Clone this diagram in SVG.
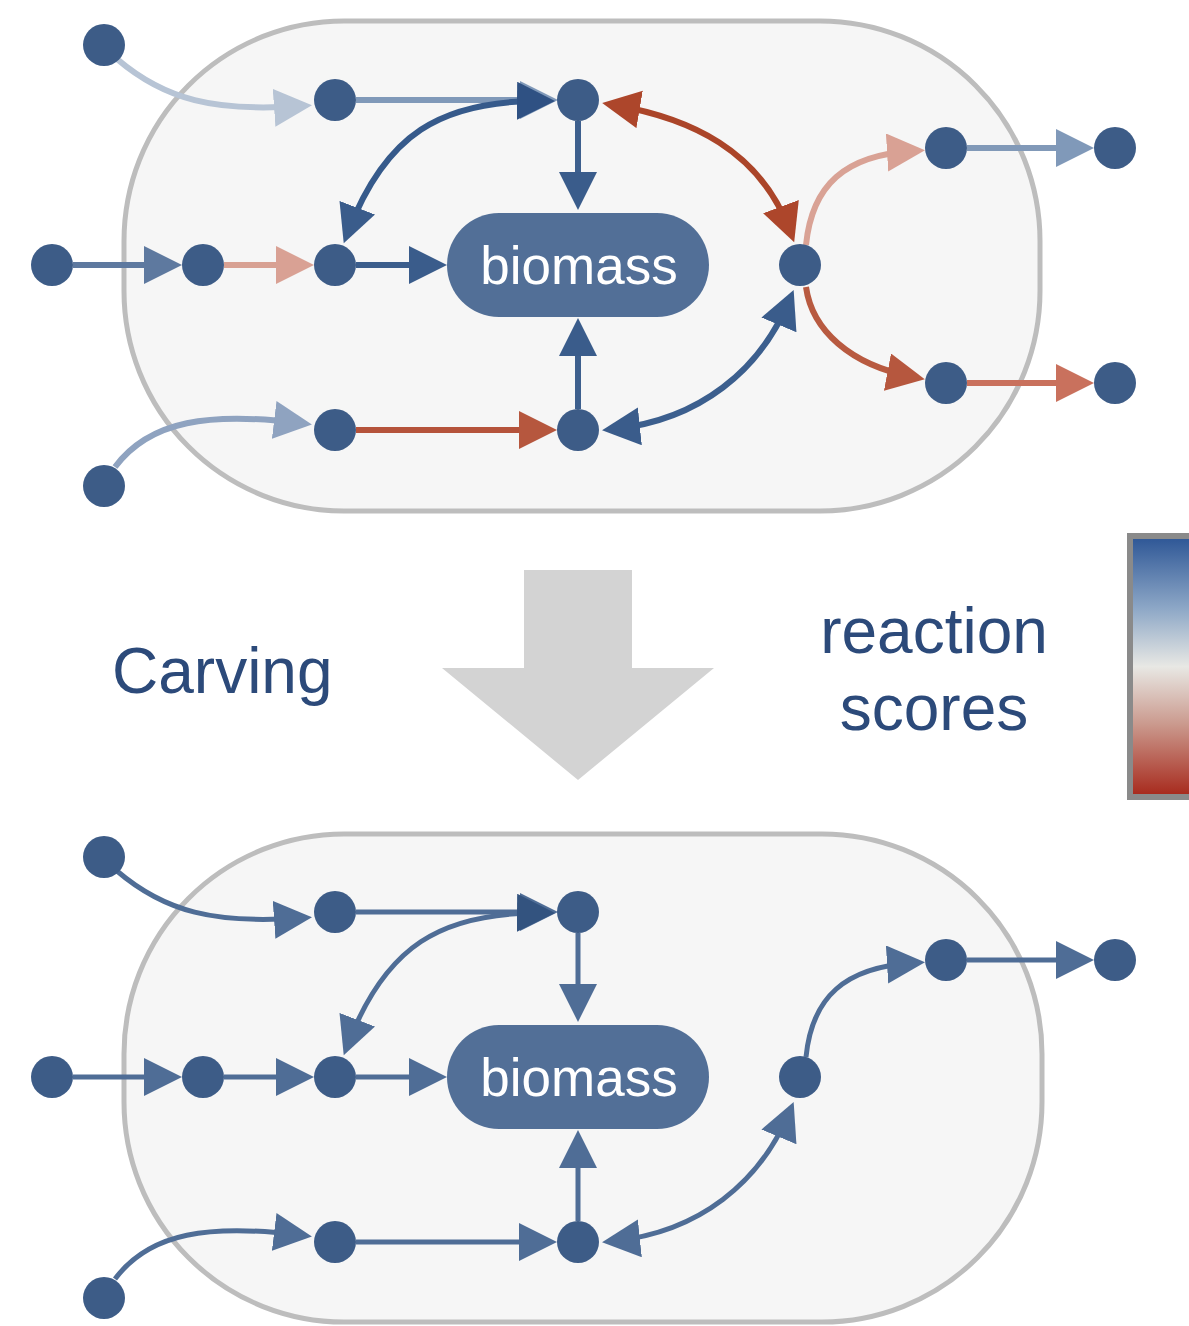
<svg xmlns="http://www.w3.org/2000/svg" width="1189" height="1326" viewBox="0 0 1189 1326">
<style>
.cell{fill:#f6f6f6;stroke:#bdbdbd;stroke-width:5}
.node{fill:#3d5c87}
.e{fill:none;stroke-width:6}
.eb{fill:none;stroke-width:5;stroke:#4f6d96}
.bio{fill:#526f97}
.biot{font-family:"Liberation Sans",Arial,sans-serif;font-size:53px;fill:#ffffff;text-anchor:middle}
.lbl{font-family:"Liberation Sans",Arial,sans-serif;font-size:64px;fill:#2c4a7a}
</style>
<defs>
<linearGradient id="scale" x1="0" y1="0" x2="0" y2="1">
<stop offset="0" stop-color="#2c5595"/>
<stop offset="0.28" stop-color="#8ea8c7"/>
<stop offset="0.5" stop-color="#e8e8e4"/>
<stop offset="0.72" stop-color="#cb9a8e"/>
<stop offset="1" stop-color="#a6271a"/>
</linearGradient>
<marker id="m-lb" markerUnits="userSpaceOnUse" markerWidth="40" markerHeight="40" refX="26" refY="19" orient="auto-start-reverse"><path d="M0,0 L38,19 L0,38 z" fill="#b7c4d5"/></marker>
<marker id="m-mb" markerUnits="userSpaceOnUse" markerWidth="40" markerHeight="40" refX="26" refY="19" orient="auto-start-reverse"><path d="M0,0 L38,19 L0,38 z" fill="#8099b9"/></marker>
<marker id="m-db" markerUnits="userSpaceOnUse" markerWidth="40" markerHeight="40" refX="26" refY="19" orient="auto-start-reverse"><path d="M0,0 L38,19 L0,38 z" fill="#3a5c8b"/></marker>
<marker id="m-dd" markerUnits="userSpaceOnUse" markerWidth="40" markerHeight="40" refX="26" refY="19" orient="auto-start-reverse"><path d="M0,0 L38,19 L0,38 z" fill="#2f5183"/></marker>
<marker id="m-de" markerUnits="userSpaceOnUse" markerWidth="40" markerHeight="40" refX="26" refY="19" orient="auto-start-reverse"><path d="M0,0 L38,19 L0,38 z" fill="#5e799f"/></marker>
<marker id="m-nl" markerUnits="userSpaceOnUse" markerWidth="40" markerHeight="40" refX="26" refY="19" orient="auto-start-reverse"><path d="M0,0 L38,19 L0,38 z" fill="#8fa3c0"/></marker>
<marker id="m-pk" markerUnits="userSpaceOnUse" markerWidth="40" markerHeight="40" refX="26" refY="19" orient="auto-start-reverse"><path d="M0,0 L38,19 L0,38 z" fill="#d9a194"/></marker>
<marker id="m-rd" markerUnits="userSpaceOnUse" markerWidth="40" markerHeight="40" refX="26" refY="19" orient="auto-start-reverse"><path d="M0,0 L38,19 L0,38 z" fill="#ad462b"/></marker>
<marker id="m-r2" markerUnits="userSpaceOnUse" markerWidth="40" markerHeight="40" refX="26" refY="19" orient="auto-start-reverse"><path d="M0,0 L38,19 L0,38 z" fill="#b6573e"/></marker>
<marker id="m-r3" markerUnits="userSpaceOnUse" markerWidth="40" markerHeight="40" refX="26" refY="19" orient="auto-start-reverse"><path d="M0,0 L38,19 L0,38 z" fill="#c9715d"/></marker>
<marker id="m-bt" markerUnits="userSpaceOnUse" markerWidth="40" markerHeight="40" refX="26" refY="19" orient="auto-start-reverse"><path d="M0,0 L38,19 L0,38 z" fill="#4f6d96"/></marker>
<marker id="m-bd" markerUnits="userSpaceOnUse" markerWidth="40" markerHeight="40" refX="26" refY="19" orient="auto-start-reverse"><path d="M0,0 L38,19 L0,38 z" fill="#33537f"/></marker>
</defs>

<rect width="1189" height="1326" fill="#ffffff"/>

<!-- cells -->
<g id="cell-top"><rect class="cell" x="124" y="21" width="916" height="490" rx="220" ry="220"/></g>
<g id="cell-bottom"><rect class="cell" x="124" y="834" width="918" height="488" rx="220" ry="220"/></g>

<!-- carving arrow, labels, legend -->
<g id="carving-arrow"><path d="M524,570 L632,570 L632,668 L714,668 L578,780 L442,668 L524,668 z" fill="#d3d3d3"/></g>
<g id="label-carving"><text class="lbl" x="112" y="693">Carving</text></g>
<g id="label-scores"><text class="lbl" x="934" y="653" text-anchor="middle">reaction</text><text class="lbl" x="934" y="730" text-anchor="middle">scores</text></g>
<g id="legend"><rect x="1130" y="536" width="70" height="261" fill="url(#scale)" stroke="#8a8a8a" stroke-width="6"/></g>

<!-- connectors top -->
<g id="connectors-top">
<path class="e" stroke="#b7c4d5" d="M117,59 C165,100 215,112 300,106" marker-end="url(#m-lb)"/>
<path class="e" stroke="#8099b9" d="M356,100 L546,100" marker-end="url(#m-mb)"/>
<path class="e" stroke="#365a8b" d="M543,101 C440,100 385,135 348,232" marker-start="url(#m-dd)" marker-end="url(#m-db)"/>
<path class="e" stroke="#3d5f8d" d="M578,121 L578,198" marker-end="url(#m-db)"/>
<path class="e" stroke="#ab4529" d="M614,105 C690,118 760,150 790,231" marker-start="url(#m-rd)" marker-end="url(#m-rd)"/>
<path class="e" stroke="#5e799f" d="M73,265 L170,265" marker-end="url(#m-de)"/>
<path class="e" stroke="#d8a193" d="M224,265 L302,265" marker-end="url(#m-pk)"/>
<path class="e" stroke="#3b5d8b" d="M356,265 L435,265" marker-end="url(#m-db)"/>
<path class="e" stroke="#b5533b" d="M356,430 L545,430" marker-end="url(#m-r2)"/>
<path class="e" stroke="#3d5f8d" d="M578,409 L578,330" marker-end="url(#m-db)"/>
<path class="e" stroke="#3c5f8e" d="M614,429 C700,420 760,370 789,301" marker-start="url(#m-db)" marker-end="url(#m-db)"/>
<path class="e" stroke="#8fa3c0" d="M115,467 C150,420 210,412 300,423" marker-end="url(#m-nl)"/>
<path class="e" stroke="#d9a295" d="M806,245 C812,185 845,155 913,151" marker-end="url(#m-pk)"/>
<path class="e" stroke="#8199b8" d="M967,148 L1082,148" marker-end="url(#m-mb)"/>
<path class="e" stroke="#b85a40" d="M806,287 C812,330 850,365 913,377" marker-end="url(#m-r2)"/>
<path class="e" stroke="#c9715d" d="M967,383 L1082,383" marker-end="url(#m-r3)"/>
</g>

<!-- connectors bottom -->
<g id="connectors-bottom" transform="translate(0,812)">
<path class="eb" d="M117,59 C165,100 215,112 300,106" marker-end="url(#m-bt)"/>
<path class="eb" d="M356,100 L546,100" marker-end="url(#m-bt)"/>
<path class="eb" d="M543,101 C440,100 385,135 348,232" marker-start="url(#m-bd)" marker-end="url(#m-bt)"/>
<path class="eb" d="M578,121 L578,198" marker-end="url(#m-bt)"/>
<path class="eb" d="M73,265 L170,265" marker-end="url(#m-bt)"/>
<path class="eb" d="M224,265 L302,265" marker-end="url(#m-bt)"/>
<path class="eb" d="M356,265 L435,265" marker-end="url(#m-bt)"/>
<path class="eb" d="M356,430 L545,430" marker-end="url(#m-bt)"/>
<path class="eb" d="M578,409 L578,330" marker-end="url(#m-bt)"/>
<path class="eb" d="M614,429 C700,420 760,370 789,301" marker-start="url(#m-bt)" marker-end="url(#m-bt)"/>
<path class="eb" d="M115,467 C150,420 210,412 300,423" marker-end="url(#m-bt)"/>
<path class="eb" d="M806,245 C812,185 845,155 913,151" marker-end="url(#m-bt)"/>
<path class="eb" d="M967,148 L1082,148" marker-end="url(#m-bt)"/>
</g>

<!-- nodes top -->
<g id="top-A"><circle class="node" cx="104" cy="45" r="21"/></g>
<g id="top-B"><circle class="node" cx="335" cy="100" r="21"/></g>
<g id="top-C"><circle class="node" cx="578" cy="100" r="21"/></g>
<g id="top-D"><circle class="node" cx="52" cy="265" r="21"/></g>
<g id="top-E"><circle class="node" cx="203" cy="265" r="21"/></g>
<g id="top-F"><circle class="node" cx="335" cy="265" r="21"/></g>
<g id="top-G"><circle class="node" cx="800" cy="265" r="21"/></g>
<g id="top-H"><circle class="node" cx="946" cy="148" r="21"/></g>
<g id="top-I"><circle class="node" cx="1115" cy="148" r="21"/></g>
<g id="top-J"><circle class="node" cx="946" cy="383" r="21"/></g>
<g id="top-K"><circle class="node" cx="1115" cy="383" r="21"/></g>
<g id="top-L"><circle class="node" cx="335" cy="430" r="21"/></g>
<g id="top-M"><circle class="node" cx="578" cy="430" r="21"/></g>
<g id="top-N"><circle class="node" cx="104" cy="486" r="21"/></g>
<g id="top-biomass"><rect class="bio" x="447" y="213" width="262" height="104" rx="52"/><text class="biot" x="579" y="284">biomass</text></g>

<!-- nodes bottom -->
<g id="bot-A"><circle class="node" cx="104" cy="857" r="21"/></g>
<g id="bot-B"><circle class="node" cx="335" cy="912" r="21"/></g>
<g id="bot-C"><circle class="node" cx="578" cy="912" r="21"/></g>
<g id="bot-D"><circle class="node" cx="52" cy="1077" r="21"/></g>
<g id="bot-E"><circle class="node" cx="203" cy="1077" r="21"/></g>
<g id="bot-F"><circle class="node" cx="335" cy="1077" r="21"/></g>
<g id="bot-G"><circle class="node" cx="800" cy="1077" r="21"/></g>
<g id="bot-H"><circle class="node" cx="946" cy="960" r="21"/></g>
<g id="bot-I"><circle class="node" cx="1115" cy="960" r="21"/></g>
<g id="bot-L"><circle class="node" cx="335" cy="1242" r="21"/></g>
<g id="bot-M"><circle class="node" cx="578" cy="1242" r="21"/></g>
<g id="bot-N"><circle class="node" cx="104" cy="1298" r="21"/></g>
<g id="bot-biomass"><rect class="bio" x="447" y="1025" width="262" height="104" rx="52"/><text class="biot" x="579" y="1096">biomass</text></g>
</svg>
